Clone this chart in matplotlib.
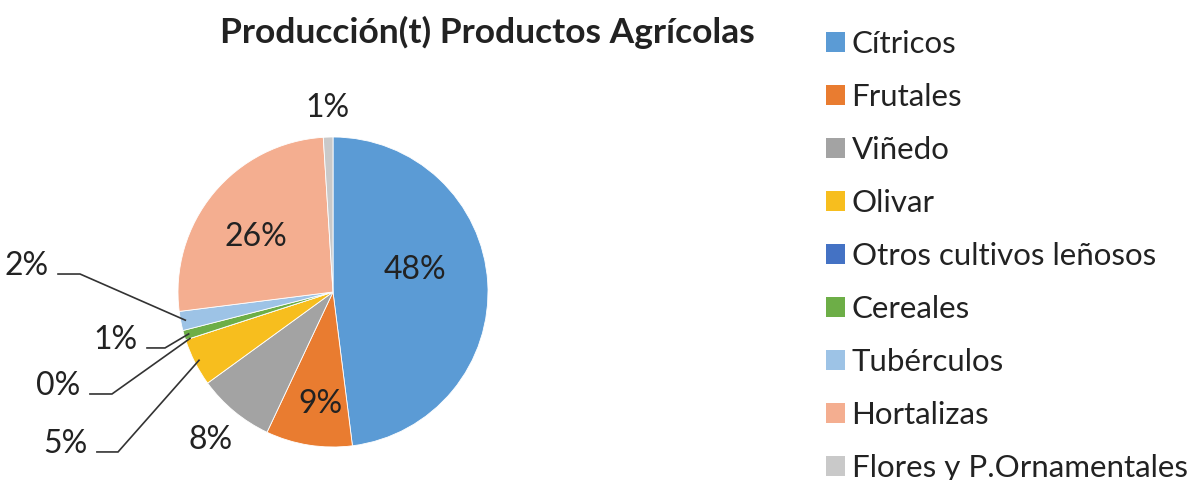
import numpy as np
import matplotlib
matplotlib.use("Agg")
import matplotlib.pyplot as plt
from matplotlib.patches import Patch

plt.rcParams['font.family'] = ['Lato', 'DejaVu Sans']

categorias = ["Cítricos", "Frutales", "Viñedo", "Olivar", "Otros cultivos leñosos",
              "Cereales", "Tubérculos", "Hortalizas", "Flores y P.Ornamentales"]
porcentajes = [48, 9, 8, 5, 0, 1, 2, 26, 1]
colores = ["#5B9BD5", "#E97C30", "#A3A3A3", "#F7BE1E", "#4472C4",
           "#6DAE47", "#9DC3E6", "#F4AE90", "#C9C9C9"]

# label placement (data units, pie radius = 1); None -> leader line label
pos_etiquetas = [(0.53, 0.14), (-0.08, -0.72), (-0.79, -0.955), None, None,
                 None, None, (-0.50, 0.355), (-0.035, 1.19)]
# leader-line labels: start of the horizontal segment and elbow point
pos_guias = {3: (-1.523, -1.387, -1.032),
             4: (-1.568, -1.426, -0.658),
             5: (-1.200, -1.084, -0.361),
             6: (-1.774, -1.632, 0.116)}

fig = plt.figure(figsize=(11.98, 4.8), dpi=100)
# one unit = 155 px, pie centre at (333, 292) px from top-left
ax = fig.add_axes([0, 0, 1, 1])

wedges, _ = ax.pie(porcentajes, colors=colores, startangle=90, counterclock=False,
                   radius=1, center=(0, 0), frame=True,
                   wedgeprops=dict(edgecolor='white', linewidth=0.6))
ax.set_xlim(-333 / 155, (1198 - 333) / 155)
ax.set_ylim(-(480 - 292) / 155, 292 / 155)
ax.set_aspect('auto')
ax.axis('off')

for i, (w, p) in enumerate(zip(wedges, porcentajes)):
    txt = f"{p:.0f}%"
    if pos_etiquetas[i] is not None:
        x, y = pos_etiquetas[i]
        ax.text(x, y, txt, ha='center', va='center', fontsize=23, color='#222222')
    else:
        x0, x1, y0 = pos_guias[i]
        ang = np.deg2rad((w.theta1 + w.theta2) / 2)
        px, py = 0.97 * np.cos(ang), 0.97 * np.sin(ang)
        ax.plot([x0, x1, px], [y0, y0, py], color='#333333', lw=1.2,
                solid_joinstyle='miter')
        ax.text(x0 - 0.06, y0 - 0.005, txt, ha='right', va='baseline',
                fontsize=23, color='#222222')

fig.text(487 / 1198, 1 - 32 / 480, "Producción(t) Productos Agrícolas",
         ha='center', va='center', fontsize=25.5, fontweight='bold', color='#222222')

handles = [Patch(facecolor=c, edgecolor='none') for c in colores]
fig.legend(handles, categorias, loc='upper left', bbox_to_anchor=(826 / 1198, 1 - 30 / 480),
           frameon=False, fontsize=22.5, handlelength=0.62, handleheight=0.62,
           handletextpad=0.2, labelspacing=0.80, borderpad=0, borderaxespad=0,
           labelcolor='#222222')

fig.savefig("out.png", dpi=100)
